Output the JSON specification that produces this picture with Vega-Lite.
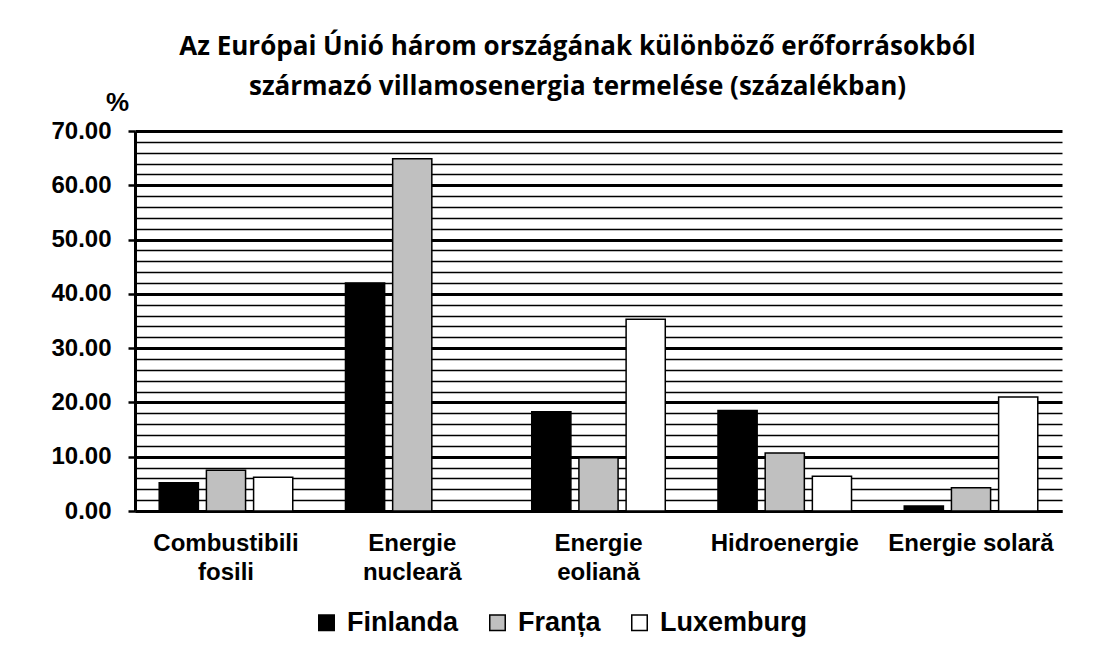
{
  "$schema": "https://vega.github.io/schema/vega-lite/v6.json",
  "autosize": "none",
  "width": 927,
  "height": 380,
  "padding": {"left": 135, "top": 131, "right": 48, "bottom": 139},
  "background": "white",
  "title": {
    "text": ["Az Európai Únió három országának különböző erőforrásokból", "származó villamosenergia termelése (százalékban)"],
    "font": "Open Sans",
    "fontSize": 26,
    "fontWeight": "bold",
    "color": "black",
    "anchor": "middle",
    "frame": "group",
    "dx": -21,
    "lineHeight": 40,
    "offset": -11
  },
  "data": {
    "values": [
      {"cat": "Combustibili fosili", "country": "Finlanda", "value": 5.2},
      {"cat": "Combustibili fosili", "country": "Franța", "value": 7.5},
      {"cat": "Combustibili fosili", "country": "Luxemburg", "value": 6.2},
      {"cat": "Energie nucleară", "country": "Finlanda", "value": 42.0},
      {"cat": "Energie nucleară", "country": "Franța", "value": 64.9},
      {"cat": "Energie nucleară", "country": "Luxemburg", "value": 0},
      {"cat": "Energie eoliană", "country": "Finlanda", "value": 18.3},
      {"cat": "Energie eoliană", "country": "Franța", "value": 9.8},
      {"cat": "Energie eoliană", "country": "Luxemburg", "value": 35.3},
      {"cat": "Hidroenergie", "country": "Finlanda", "value": 18.5},
      {"cat": "Hidroenergie", "country": "Franța", "value": 10.7},
      {"cat": "Hidroenergie", "country": "Luxemburg", "value": 6.4},
      {"cat": "Energie solară", "country": "Finlanda", "value": 0.9},
      {"cat": "Energie solară", "country": "Franța", "value": 4.3},
      {"cat": "Energie solară", "country": "Luxemburg", "value": 21.0}
    ]
  },
  "mark": {"type": "bar", "stroke": "black", "strokeWidth": 1.5},
  "encoding": {
    "x": {
      "field": "cat",
      "type": "nominal",
      "sort": null,
      "scale": {"paddingInner": 0.283, "paddingOuter": 0.13},
      "axis": {
        "title": null,
        "labelAngle": 0,
        "labelExpr": "datum.value == 'Combustibili fosili' ? ['Combustibili', 'fosili'] : datum.value == 'Energie nucleară' ? ['Energie', 'nucleară'] : datum.value == 'Energie eoliană' ? ['Energie', 'eoliană'] : datum.value",
        "labelFont": "Liberation Sans",
        "labelFontSize": 24,
        "labelFontWeight": "bold",
        "labelColor": "black",
        "labelLineHeight": 29,
        "labelPadding": 20,
        "labelLimit": 300,
        "labelOverlap": false,
        "ticks": false,
        "domainColor": "black",
        "domainWidth": 3,
        "grid": false
      }
    },
    "xOffset": {
      "field": "country",
      "type": "nominal",
      "scale": {"paddingInner": 0.17, "paddingOuter": 0}
    },
    "y": {
      "field": "value",
      "type": "quantitative",
      "scale": {"domain": [0, 70], "nice": false},
      "axis": {
        "title": "%",
        "titleAngle": 0,
        "titleFont": "Liberation Sans",
        "titleFontSize": 26,
        "titleFontWeight": "bold",
        "titleColor": "black",
        "titleX": -18,
        "titleY": -21,
        "titleAlign": "center",
        "titleBaseline": "alphabetic",
        "values": [0, 2, 4, 6, 8, 10, 12, 14, 16, 18, 20, 22, 24, 26, 28, 30, 32, 34, 36, 38, 40, 42, 44, 46, 48, 50, 52, 54, 56, 58, 60, 62, 64, 66, 68, 70],
        "labelExpr": "datum.value % 10 === 0 ? format(datum.value, '.2f') : ''",
        "labelFont": "Liberation Sans",
        "labelFontSize": 24,
        "labelFontWeight": "bold",
        "labelColor": "black",
        "labelPadding": 17,
        "labelOverlap": false,
        "tickSize": 7,
        "tickColor": "black",
        "tickWidth": 2.5,
        "tickOpacity": {"condition": {"test": "datum.value % 10 === 0", "value": 1}, "value": 0},
        "domainColor": "black",
        "domainWidth": 3,
        "grid": true,
        "gridColor": "black",
        "gridOpacity": 1,
        "gridWidth": {"condition": {"test": "datum.value % 10 === 0", "value": 3}, "value": 1.6}
      }
    },
    "color": {
      "field": "country",
      "type": "nominal",
      "scale": {"domain": ["Finlanda", "Franța", "Luxemburg"], "range": ["#000000", "#c0c0c0", "#ffffff"]},
      "legend": {
        "title": null,
        "orient": "none",
        "direction": "horizontal",
        "legendX": 178,
        "legendY": 478,
        "symbolType": "square",
        "symbolSize": 240,
        "symbolStrokeColor": "black",
        "symbolStrokeWidth": 1.5,
        "symbolOpacity": 1,
        "labelFont": "Liberation Sans",
        "labelFontSize": 27,
        "labelFontWeight": "bold",
        "labelColor": "black",
        "labelOffset": 7,
        "columnPadding": 25,
        "labelLimit": 300
      }
    }
  },
  "config": {
    "view": {"stroke": null}
  }
}
